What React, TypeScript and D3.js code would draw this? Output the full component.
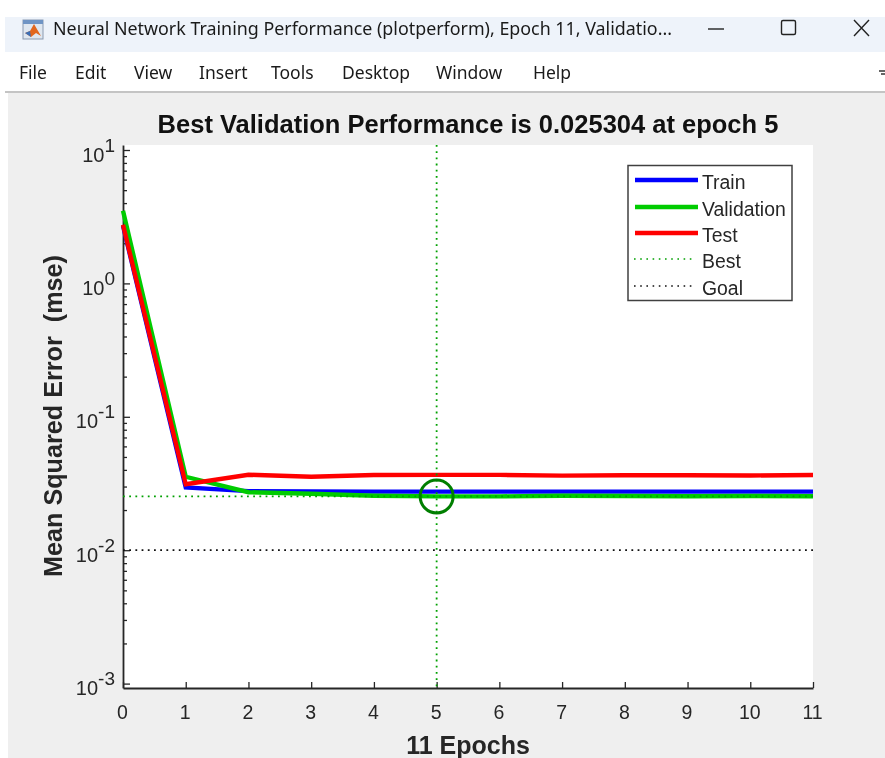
import React, { useEffect, useRef } from 'react';
import * as d3 from 'd3';

// values
const epochs = [0, 1, 2, 3, 4, 5, 6, 7, 8, 9, 10, 11];
const trainPerf = [2.7, 0.0296, 0.0277, 0.0276, 0.0275, 0.0275, 0.0275, 0.0275, 0.0275, 0.0275, 0.0275, 0.0275];
const validationPerf = [3.5, 0.0355, 0.0272, 0.0265, 0.0256, 0.0253, 0.0253, 0.0256, 0.0255, 0.0254, 0.0255, 0.0254];
const testPerf = [2.75, 0.0312, 0.0368, 0.0355, 0.0366, 0.0367, 0.0367, 0.0362, 0.0365, 0.0365, 0.0363, 0.0366];
const bestEpoch = 5;
const bestPerf = 0.025304;
const goalPerf = 0.01;
const yMajorTicks = [10, 1, 0.1, 0.01, 0.001];
const yExponents = ['1', '0', '-1', '-2', '-3'];
const menuItems = ['File', 'Edit', 'View', 'Insert', 'Tools', 'Desktop', 'Window', 'Help'];
const menuX = [19, 75, 134, 199, 271, 342, 436, 533];
const legendLines = [
  { label: 'Train', color: '#0000ff' },
  { label: 'Validation', color: '#00cc00' },
  { label: 'Test', color: '#ff0000' },
];
const legendDotted = [
  { label: 'Best', color: '#00a000' },
  { label: 'Goal', color: '#111111' },
];

const WIDTH = 885;
const HEIGHT = 758;
const FONT = '"Liberation Sans", Arial, sans-serif';
const UI_FONT = '"Noto Sans", "Open Sans", sans-serif';
const TEXT = '#262626';

const App = () => {
  const svgRef = useRef<SVGSVGElement>(null);

  useEffect(() => {
    const svg = d3.select(svgRef.current);
    svg.selectAll('*').remove();

    // window chrome
    svg.append('rect').attr('width', WIDTH).attr('height', HEIGHT).attr('fill', '#ffffff');
    svg.append('rect').attr('x', 5).attr('y', 17).attr('width', WIDTH - 5).attr('height', 35).attr('fill', '#eef3fa');
    svg.append('rect').attr('x', 8).attr('y', 92).attr('width', WIDTH - 8).attr('height', HEIGHT - 92).attr('fill', '#efefef');
    svg.append('rect').attr('x', 5).attr('y', 91).attr('width', WIDTH - 5).attr('height', 2).attr('fill', '#c4c4c4');

    // matlab icon
    const icon = svg.append('g');
    icon.append('rect').attr('x', 23).attr('y', 20).attr('width', 20).attr('height', 19).attr('fill', '#dfe7f0').attr('stroke', '#8a9ab0');
    icon.append('rect').attr('x', 23).attr('y', 20).attr('width', 20).attr('height', 4).attr('fill', '#6f94c4');
    icon.append('path').attr('d', 'M25 33 L30 31 L34 24 L41 36 L36 33 L31 37 Z').attr('fill', '#e2661d');
    icon.append('path').attr('d', 'M25 33 L30 31 L31 37 Z').attr('fill', '#3b6fb6');

    svg.append('text').attr('x', 53).attr('y', 35).attr('font-family', UI_FONT).attr('font-size', 18).attr('fill', '#1a1a1a')
      .attr('textLength', 619).attr('lengthAdjust', 'spacingAndGlyphs')
      .text('Neural Network Training Performance (plotperform), Epoch 11, Validatio...');

    // window buttons
    svg.append('line').attr('x1', 708).attr('x2', 724).attr('y1', 29).attr('y2', 29).attr('stroke', '#222').attr('stroke-width', 1.4);
    svg.append('rect').attr('x', 781.5).attr('y', 20.5).attr('width', 14).attr('height', 14).attr('rx', 1.5).attr('fill', 'none').attr('stroke', '#222').attr('stroke-width', 1.4);
    svg.append('path').attr('d', 'M854 20 L869 36 M869 20 L854 36').attr('stroke', '#222').attr('stroke-width', 1.4);

    // menu bar
    svg.append('g').selectAll('text').data(menuItems).join('text')
      .attr('x', (d, i) => menuX[i]).attr('y', 79)
      .attr('font-family', UI_FONT).attr('font-size', 17.5).attr('fill', '#1a1a1a')
      .text(d => d);
    svg.append('path').attr('d', 'M879 71 L885 71 M881 74 L885 74').attr('stroke', '#333').attr('stroke-width', 1.5);

    // plot area
    const left = 123;
    const right = 813;
    const top = 145;
    const bottom = 688;
    const x = d3.scaleLinear().domain([0, 11]).range([left, right]);
    const y = d3.scaleLog().domain([0.001, 10]).range([683.6, 150]);
    const yBottom = y.invert(bottom);
    const yTop = y.invert(top);
    y.domain([yBottom, yTop]).range([bottom, top]);

    svg.append('rect').attr('x', left).attr('y', top).attr('width', right - left).attr('height', bottom - top).attr('fill', '#ffffff');

    // minor log ticks, 2..9 in each decade
    const yMinor: number[] = [];
    yMajorTicks.slice(1).forEach(base => {
      d3.range(2, 10).forEach(m => yMinor.push(base * m));
    });

    const xAxis = svg.append('g').attr('transform', `translate(0,${bottom})`)
      .call(d3.axisBottom(x).tickValues(epochs).tickFormat(d3.format('d')).tickSizeInner(-6).tickSizeOuter(0));
    xAxis.selectAll('text').attr('dy', 0).attr('x', -1).attr('y', 31).attr('font-size', 19.5).attr('font-family', FONT).attr('fill', TEXT);

    const yMinorAxis = svg.append('g').attr('transform', `translate(${left},0)`)
      .call(d3.axisLeft(y).tickValues(yMinor).tickFormat(() => '').tickSizeInner(-4).tickSizeOuter(0));
    yMinorAxis.select('.domain').remove();

    const yAxis = svg.append('g').attr('transform', `translate(${left},0)`)
      .call(d3.axisLeft(y).tickValues(yMajorTicks).tickFormat(() => '').tickSizeInner(-7).tickSizeOuter(0));

    // labels like 10 with a raised exponent
    yAxis.selectAll('.tick text').each(function (d, i) {
      const t = d3.select(this);
      t.text('').attr('x', -8).attr('dy', 0).attr('y', 11).attr('text-anchor', 'end')
        .attr('font-family', FONT).attr('fill', TEXT).attr('font-size', 20);
      t.append('tspan').text('10');
      t.append('tspan').attr('dy', -10).attr('font-size', 19).text(yExponents[i]);
    });

    [xAxis, yMinorAxis, yAxis].forEach(a => {
      a.selectAll('line').attr('stroke', TEXT).attr('stroke-width', 1.3);
      a.selectAll('.domain').attr('stroke', TEXT).attr('stroke-width', 1.8);
    });

    // series
    const line = d3.line<number>().x((d, i) => x(epochs[i])).y(d => y(d));
    const series = [trainPerf, validationPerf, testPerf];
    series.forEach((values, i) => {
      svg.append('path').attr('d', line(values)).attr('fill', 'none')
        .attr('stroke', legendLines[i].color).attr('stroke-width', 4.4);
    });

    // best and goal markers
    const dotted = (x1: number, x2: number, y1: number, y2: number, color: string) =>
      svg.append('line').attr('x1', x1).attr('x2', x2).attr('y1', y1).attr('y2', y2)
        .attr('stroke', color).attr('stroke-width', 1.8).attr('stroke-dasharray', '1.8 4.4');
    dotted(left, right, y(bestPerf), y(bestPerf), legendDotted[0].color);
    dotted(x(bestEpoch), x(bestEpoch), top, bottom, legendDotted[0].color);
    dotted(left, right, y(goalPerf), y(goalPerf), legendDotted[1].color);
    svg.append('circle').attr('cx', x(bestEpoch)).attr('cy', y(bestPerf)).attr('r', 16.5)
      .attr('fill', 'none').attr('stroke', '#007f00').attr('stroke-width', 3);

    // title and axis labels
    svg.append('text').attr('x', 468).attr('y', 133).attr('text-anchor', 'middle')
      .attr('font-family', FONT).attr('font-weight', 'bold').attr('font-size', 25.5).attr('fill', '#111')
      .text('Best Validation Performance is 0.025304 at epoch 5');
    svg.append('text').attr('x', 468).attr('y', 754).attr('text-anchor', 'middle')
      .attr('font-family', FONT).attr('font-weight', 'bold').attr('font-size', 25).attr('fill', TEXT)
      .text('11 Epochs');
    svg.append('text').attr('transform', 'translate(62,416) rotate(-90)').attr('text-anchor', 'middle')
      .attr('font-family', FONT).attr('font-weight', 'bold').attr('font-size', 25.2).attr('fill', TEXT)
      .style('white-space', 'pre')
      .text('Mean Squared Error  (mse)');

    // legend
    const legend = svg.append('g');
    legend.append('rect').attr('x', 628).attr('y', 165.5).attr('width', 164).attr('height', 135)
      .attr('fill', '#ffffff').attr('stroke', '#404040').attr('stroke-width', 1.5);
    const legendY = [180, 207, 233, 259, 286];
    legendLines.forEach((d, i) => {
      legend.append('line').attr('x1', 635).attr('x2', 698).attr('y1', legendY[i]).attr('y2', legendY[i])
        .attr('stroke', d.color).attr('stroke-width', 4.4);
    });
    legendDotted.forEach((d, i) => {
      legend.append('line').attr('x1', 634).attr('x2', 694).attr('y1', legendY[i + 3]).attr('y2', legendY[i + 3])
        .attr('stroke', d.color).attr('stroke-width', 1.6).attr('stroke-dasharray', '1.6 4.6');
    });
    legend.selectAll('text').data([...legendLines, ...legendDotted]).join('text')
      .attr('x', 702).attr('y', (d, i) => legendY[i] + 9)
      .attr('font-family', FONT).attr('font-size', 19.4).attr('fill', TEXT)
      .text(d => d.label);
  }, []);

  return <svg ref={svgRef} width={WIDTH} height={HEIGHT} style={{ position: 'fixed', left: 0, top: 0, filter: 'blur(0.4px)' }} />;
};

export default App;
